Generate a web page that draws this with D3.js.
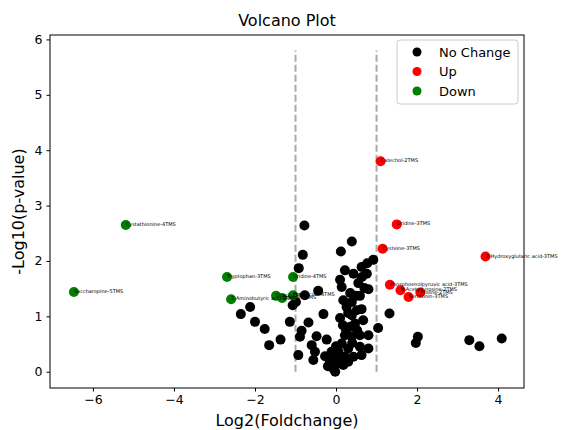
<!DOCTYPE html>
<html><head><meta charset="utf-8">
<script src="https://cdn.jsdelivr.net/npm/d3@7"></script>
<style>body{margin:0;background:#fff;} svg{font-family:"DejaVu Sans",sans-serif;}</style>
</head><body>
<svg id="c" width="563" height="430"></svg>
<script>
// No Change points [log2FC, -log10 p]
const noChangeX = [-0.78,0.39,-0.82,0.12,-0.92,0.92,0.77,0.63,0.22,0.43,0.76,0.10,0.55,0.80,0.14,-0.44,0.35,0.59,-0.77,-1.07,-0.31,0.18,0.39,0.26,0.51,0.63,0.39,1.32,-1.14,-0.68,0.47,0.17,0.67,1.04,0.35,-0.85,-0.89,-0.48,-0.23,0.22,0.39,0.59,0.80,0.14,0.30,-0.60,-0.52,-0.93,-0.56,0.59,0.80,0.63,0.06,0.22,-0.07,-0.15,0.06,-0.07,-0.02,0.18,0.30,0.43,-0.11,-2.12,-2.35,-2.00,-1.76,-1.37,-1.65,2.02,1.97,3.29,3.54,4.09,-0.99,0.10,0.25,0.00,0.12,-0.20,-0.27,0.40,0.52,0.30,0.49,0.70,0.64];
const noChangeY = [2.64,2.35,2.11,2.17,1.87,2.02,1.96,1.89,1.83,1.77,1.77,1.66,1.60,1.49,1.53,1.46,1.42,1.37,1.38,1.20,1.04,1.29,1.26,1.17,1.11,1.13,1.02,1.05,0.90,0.89,0.87,0.84,0.93,0.79,0.81,0.74,0.63,0.64,0.58,0.66,0.63,0.66,0.66,0.51,0.42,0.48,0.36,0.30,0.21,0.45,0.42,0.30,0.36,0.27,0.27,0.18,0.15,0.06,0.00,0.12,0.18,0.27,0.36,1.17,1.04,0.90,0.77,0.58,0.48,0.63,0.52,0.57,0.46,0.60,1.26,0.97,0.75,0.46,0.25,0.10,0.28,0.52,0.75,1.06,1.37,1.51,1.71];

const upNames = ["Catechol-2TMS","Uridine-3TMS","Cysteine-3TMS","2-Hydroxyglutaric acid-3TMS","Phosphoenolpyruvic acid-3TMS","N-Acetyltyrosine-2TMS","Proline-2TMS","Serotonin-3TMS"];
const upX = [1.10,1.50,1.15,3.69,1.33,1.59,2.08,1.79];
const upY = [3.80,2.66,2.22,2.08,1.57,1.47,1.43,1.35];

const downNames = ["Cystathionine-4TMS","Saccharopine-5TMS","Tryptophan-3TMS","2-Aminobutyric acid-2TMS","Uridine-4TMS","Uracil-2TMS","Glycine-3TMS","Putrescine-4TMS"];
const downX = [-5.19,-6.47,-2.69,-2.59,-1.06,-1.48,-1.33,-1.06];
const downY = [2.65,1.44,1.71,1.31,1.71,1.37,1.33,1.38];

const xTicks = [-6,-4,-2,0,2,4];
const yTicks = [0,1,2,3,4,5,6];
const thresholds = [-1,1];
const lineTop = 5.8;

const svg = d3.select("#c");
const L=50,R=524,T=35,B=388;
const x = d3.scaleLinear().domain([-7.06,4.64]).range([L,R]);
const y = d3.scaleLinear().domain([-0.294,6.08]).range([B,T]);

// axes
svg.append("g").attr("transform",`translate(0,${B})`)
  .call(d3.axisBottom(x).tickValues(xTicks).tickSize(3.5).tickPadding(4).tickFormat(d=>d<0?"\u2212"+(-d):String(d)))
  .call(g=>{g.select(".domain").remove();g.selectAll("text").attr("font-size",12.5).attr("fill","#000").attr("font-family","DejaVu Sans");g.selectAll("line").attr("stroke","#000");});
svg.append("g").attr("transform",`translate(${L},0)`)
  .call(d3.axisLeft(y).tickValues(yTicks).tickSize(3.5).tickPadding(4).tickFormat(d3.format("d")))
  .call(g=>{g.select(".domain").remove();g.selectAll("text").attr("font-size",12.5).attr("fill","#000").attr("font-family","DejaVu Sans");g.selectAll("line").attr("stroke","#000");});

const plot = svg.append("g");
// threshold lines
plot.selectAll("line.th").data(thresholds).join("line")
  .attr("x1",d=>x(d)).attr("x2",d=>x(d)).attr("y1",y(0)).attr("y2",y(lineTop))
  .attr("stroke","#aaaaaa").attr("stroke-width",2).attr("stroke-dasharray","7,3");

const nc = noChangeX.map((v,i)=>({x:v,y:noChangeY[i]}));
const up = upX.map((v,i)=>({x:v,y:upY[i],n:upNames[i]}));
const dn = downX.map((v,i)=>({x:v,y:downY[i],n:downNames[i]}));

plot.selectAll("circle.nc").data(nc).join("circle").attr("cx",d=>x(d.x)).attr("cy",d=>y(d.y)).attr("r",5).attr("fill","#000");
plot.selectAll("circle.up").data(up).join("circle").attr("cx",d=>x(d.x)).attr("cy",d=>y(d.y)).attr("r",5).attr("fill","#ff0000");
plot.selectAll("circle.dn").data(dn).join("circle").attr("cx",d=>x(d.x)).attr("cy",d=>y(d.y)).attr("r",5).attr("fill","#008000");
plot.selectAll("text.lab").data(up.concat(dn)).join("text")
  .attr("x",d=>x(d.x)).attr("y",d=>y(d.y)+1).attr("font-size",5).attr("fill","#000").text(d=>d.n);

// frame
svg.append("rect").attr("x",L).attr("y",T).attr("width",R-L).attr("height",B-T).attr("fill","none").attr("stroke","#000").attr("stroke-width",1);

// legend
const lg = svg.append("g");
lg.append("rect").attr("x",397).attr("y",40).attr("width",121).attr("height",64).attr("rx",3)
  .attr("fill","#fff").attr("fill-opacity",0.8).attr("stroke","#cccccc");
const legItems=[["No Change","#000"],["Up","#ff0000"],["Down","#008000"]];
legItems.forEach((d,i)=>{
  lg.append("circle").attr("cx",417).attr("cy",52+i*19.5).attr("r",4.5).attr("fill",d[1]);
  lg.append("text").attr("x",439).attr("y",56.5+i*19.5).attr("font-size",13).text(d[0]);
});

// titles
svg.append("text").attr("x",(L+R)/2).attr("y",26).attr("text-anchor","middle").attr("font-size",16).text("Volcano Plot");
svg.append("text").attr("x",(L+R)/2).attr("y",426).attr("text-anchor","middle").attr("font-size",16).text("Log2(Foldchange)");
svg.append("text").attr("transform",`translate(24,${(T+B)/2}) rotate(-90)`).attr("text-anchor","middle").attr("font-size",16).text("-Log10(p-value)");
</script>
</body></html>
